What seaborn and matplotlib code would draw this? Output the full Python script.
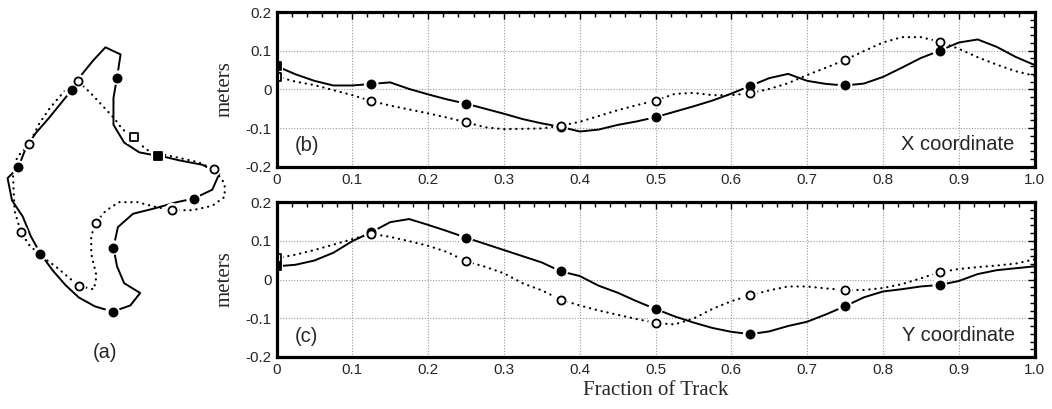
import numpy as np
import matplotlib
matplotlib.use("Agg")
import matplotlib.pyplot as plt
from matplotlib.ticker import FixedLocator, MultipleLocator
import seaborn as sns

# Sampling positions along the track (fraction of the full loop)
fraction = np.round(np.arange(41) * 0.025, 4)

# Track 1 (solid line, filled markers), coordinates in meters
solid_x = [0.060, 0.039, 0.022, 0.010, 0.010, 0.014, 0.018, 0.001, -0.013, -0.026,
           -0.037, -0.050, -0.063, -0.077, -0.088, -0.097, -0.109, -0.104, -0.092, -0.083,
           -0.072, -0.058, -0.044, -0.029, -0.011, 0.009, 0.029, 0.040, 0.022, 0.014,
           0.010, 0.015, 0.032, 0.056, 0.081, 0.100, 0.121, 0.129, 0.110, 0.084, 0.063]
solid_y = [0.034, 0.038, 0.049, 0.069, 0.099, 0.122, 0.148, 0.156, 0.141, 0.125,
           0.108, 0.092, 0.076, 0.060, 0.044, 0.021, 0.009, -0.016, -0.034, -0.056,
           -0.076, -0.095, -0.111, -0.125, -0.135, -0.141, -0.134, -0.120, -0.109, -0.090,
           -0.069, -0.046, -0.031, -0.025, -0.018, -0.014, -0.004, 0.014, 0.024, 0.029, 0.034]

# Track 2 (dotted line, open markers), coordinates in meters
dotted_x = [0.033, 0.020, 0.011, -0.002, -0.015, -0.030, -0.042, -0.052, -0.062, -0.073,
            -0.085, -0.098, -0.103, -0.102, -0.101, -0.094, -0.084, -0.069, -0.054, -0.041,
            -0.029, -0.012, -0.009, -0.015, -0.015, -0.010, 0.001, 0.016, 0.037, 0.056,
            0.076, 0.099, 0.121, 0.135, 0.135, 0.123, 0.105, 0.083, 0.064, 0.047, 0.035]
dotted_y = [0.055, 0.064, 0.076, 0.090, 0.104, 0.118, 0.110, 0.099, 0.087, 0.071,
            0.047, 0.033, 0.016, -0.010, -0.028, -0.052, -0.067, -0.080, -0.091, -0.102,
            -0.112, -0.116, -0.101, -0.076, -0.056, -0.041, -0.028, -0.018, -0.018, -0.023,
            -0.027, -0.027, -0.022, -0.012, 0.003, 0.019, 0.027, 0.032, 0.036, 0.041, 0.052]

# Markers every eighth of the track; the start point gets a square
marker_idx = [5, 10, 15, 20, 25, 30, 35]
start_idx = 0

x_ticks = [0.0, 0.1, 0.2, 0.3, 0.4, 0.5, 0.6, 0.7, 0.8, 0.9, 1.0]
x_tick_labels = ["0", "0.1", "0.2", "0.3", "0.4", "0.5", "0.6", "0.7", "0.8", "0.9", "1.0"]
y_ticks = [-0.2, -0.1, 0.0, 0.1, 0.2]
y_tick_labels = ["-0.2", "-0.1", "0", "0.1", "0.2"]

sns.set_style("white")
plt.rcParams["font.family"] = ["Liberation Sans", "DejaVu Sans"]
plt.rcParams["axes.unicode_minus"] = False

W, H = 1052, 409
fig = plt.figure(figsize=(W / 100, H / 100), dpi=100)

SOLID = dict(color="black", linewidth=1.4, linestyle="-")
DOTTED = dict(color="black", linewidth=1.6, linestyle=(0, (0.1, 2.6)),
              dash_capstyle="round")


def draw_track(ax, xs, ys, filled, line_kw):
    xs = np.asarray(xs)
    ys = np.asarray(ys)
    sns.lineplot(x=xs, y=ys, ax=ax, sort=False, estimator=None, legend=False,
                 zorder=2, **line_kw)
    face = "black" if filled else "white"
    # white halo so the curve breaks around each marker
    sns.scatterplot(x=xs[marker_idx], y=ys[marker_idx], ax=ax, marker="o", s=110,
                    color="white", edgecolor="none", linewidth=0, legend=False, zorder=3)
    sns.scatterplot(x=xs[[start_idx]], y=ys[[start_idx]], ax=ax, marker="s", s=100,
                    color="white", edgecolor="none", linewidth=0, legend=False, zorder=3)
    sns.scatterplot(x=xs[marker_idx], y=ys[marker_idx], ax=ax, marker="o", s=34,
                    color=face, edgecolor="black", linewidth=1.3, legend=False, zorder=4)
    sns.scatterplot(x=xs[[start_idx]], y=ys[[start_idx]], ax=ax, marker="s", s=34,
                    color=face, edgecolor="black", linewidth=1.3, legend=False, zorder=4)


def px_rect(left, top, right, bottom):
    return [left / W, 1 - bottom / H, (right - left) / W, (bottom - top) / H]


# (a) the two tracks in the plane
ax_a = fig.add_axes(px_rect(0, 20, 240, 330))
draw_track(ax_a, solid_x, solid_y, True, SOLID)
draw_track(ax_a, dotted_x, dotted_y, False, DOTTED)
ax_a.set_xlim(-0.1175, 0.1522)
ax_a.set_ylim(-0.1616, 0.1867)
ax_a.set_axis_off()
fig.text(105 / W, 1 - 352 / H, "(a)", fontsize=14.5, ha="center", va="center")

# (b) X coordinate and (c) Y coordinate against fraction of track
ax_b = fig.add_axes(px_rect(276.5, 12, 1034.5, 166.7))
ax_c = fig.add_axes(px_rect(276.5, 202, 1034.5, 357))

panels = [
    (ax_b, solid_x, dotted_x, "(b)", "X coordinate"),
    (ax_c, solid_y, dotted_y, "(c)", "Y coordinate"),
]
for ax, s_vals, d_vals, tag, title in panels:
    draw_track(ax, fraction, s_vals, True, SOLID)
    # series are drawn against fraction; reuse the helper with fraction as x
    draw_track(ax, fraction, d_vals, False, DOTTED)
    ax.set_xlim(0, 1)
    ax.set_ylim(-0.2, 0.2)
    ax.xaxis.set_major_locator(FixedLocator(x_ticks))
    ax.set_xticklabels(x_tick_labels)
    ax.yaxis.set_major_locator(FixedLocator(y_ticks))
    ax.set_yticklabels(y_tick_labels)
    ax.xaxis.set_minor_locator(MultipleLocator(0.02))
    ax.yaxis.set_minor_locator(MultipleLocator(0.02))
    ax.tick_params(which="both", direction="in", top=True, right=True,
                   color="black", width=1.0)
    ax.tick_params(which="major", length=5, labelsize=11, pad=4.5)
    ax.tick_params(which="minor", length=3.5)
    ax.tick_params(axis="y", which="major", pad=3.5)
    ax.grid(True, which="major", linestyle=(0, (1, 1.5)), color="#9a9a9a", linewidth=0.8)
    ax.set_axisbelow(True)
    for sp in ax.spines.values():
        sp.set_visible(True)
        sp.set_color("black")
        sp.set_linewidth(2.3)
        sp.set_zorder(5)
    ax.set_ylabel("meters", fontsize=15, family=["Liberation Serif", "DejaVu Serif"])
    ax.yaxis.set_label_coords(-0.0547, 0.5)
    ax.text(0.024, 0.1, tag, transform=ax.transAxes, fontsize=14.5,
            ha="left", va="baseline", zorder=6)
    ax.text(0.974, 0.105, title, transform=ax.transAxes, fontsize=14.5,
            ha="right", va="baseline", zorder=6)
    ax.set_xlabel("")

ax_c.set_xlabel("Fraction of Track", fontsize=15, family=["Liberation Serif", "DejaVu Serif"])
ax_c.xaxis.label.set_va("baseline")
ax_c.xaxis.set_label_coords(0.5, (357 - 395) / 155)

fig.savefig("out.png", dpi=100)
